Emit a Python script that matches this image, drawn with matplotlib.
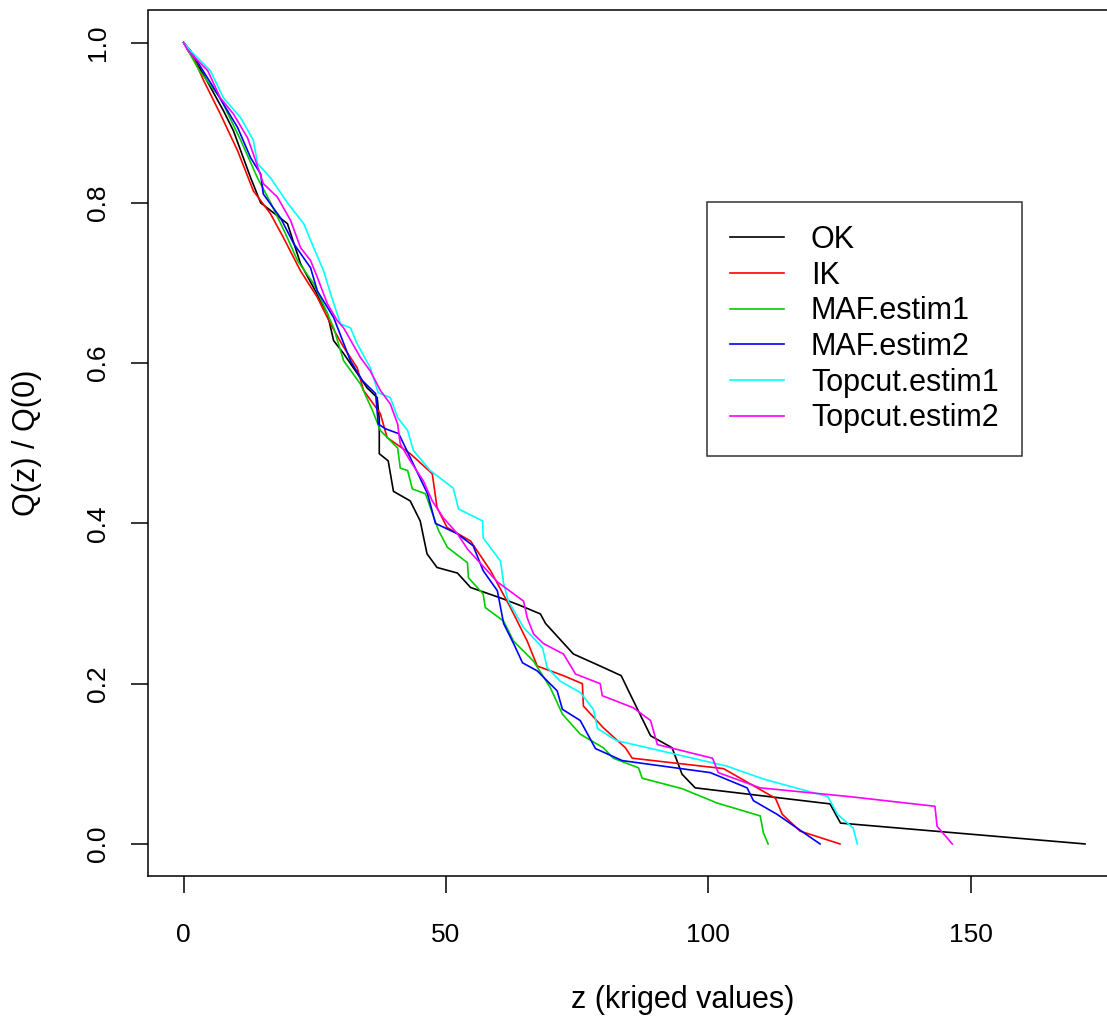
import matplotlib
matplotlib.use("Agg")
from matplotlib import pyplot as plt

plt.rcParams['font.family'] = ['Liberation Sans', 'DejaVu Sans']

# Q(z)/Q(0) curves
ok_z = [0, 3.8, 7.6, 9.5, 12.8, 14.7, 19.8, 22.3, 24.8, 27.4, 28.6, 30.5, 35, 36.9, 37.3, 37.3,
        39, 40, 43.2, 45.1, 46.4, 48.3, 52.2, 54.7, 60.4, 64, 68, 69, 74.3, 79.4, 83.4, 85.1,
        89, 93.1, 95, 97.5, 123.2, 125.2, 171.8]
ok_q = [1.0, 0.96, 0.915, 0.89, 0.831, 0.80, 0.774, 0.724, 0.694, 0.662, 0.628, 0.612, 0.569, 0.557, 0.53, 0.487,
        0.478, 0.44, 0.428, 0.403, 0.362, 0.345, 0.338, 0.32, 0.307, 0.298, 0.287, 0.275, 0.237, 0.222, 0.21, 0.187,
        0.135, 0.12, 0.087, 0.07, 0.05, 0.026, 0.0]

ik_z = [0, 1.3, 3.8, 7, 10.3, 13.3, 16.6, 19, 22.3, 25.5, 28, 30.5, 33.1, 34.3, 37.5, 38.8, 43.2,
        47.4, 48.3, 50.2, 54.7, 58.5, 62.3, 65.5, 67.4, 72.4, 76, 76.2, 80, 84.2, 85.5, 102.9,
        112.8, 114.1, 117.5, 125.1]
ik_q = [1.0, 0.99, 0.953, 0.911, 0.865, 0.815, 0.786, 0.757, 0.715, 0.682, 0.649, 0.62, 0.594, 0.566, 0.537, 0.507, 0.487,
        0.462, 0.42, 0.395, 0.378, 0.341, 0.295, 0.253, 0.222, 0.21, 0.2, 0.172, 0.145, 0.12, 0.107, 0.094,
        0.057, 0.037, 0.016, 0.0]

maf1_z = [0, 3, 7, 10.9, 14.1, 16.6, 19.4, 21.7, 24.8, 27.4, 28.6, 30.5, 33.7, 36, 37.5, 40.8, 41.3,
          42.7, 43.6, 46.1, 48.6, 50.3, 54.1, 54.3, 57.1, 57.5, 61, 62.9, 66.7, 69.9, 72.2, 75.6,
          80, 81.9, 86.7, 87.4, 95, 101.7, 109.9, 110.5, 111.4]
maf1_q = [1.0, 0.965, 0.931, 0.878, 0.831, 0.8, 0.762, 0.728, 0.699, 0.662, 0.644, 0.603, 0.574, 0.541, 0.516, 0.494, 0.469,
          0.466, 0.443, 0.437, 0.391, 0.37, 0.351, 0.332, 0.312, 0.295, 0.278, 0.253, 0.228, 0.195, 0.162, 0.137,
          0.12, 0.107, 0.095, 0.082, 0.069, 0.051, 0.035, 0.014, 0.0]

maf2_z = [0, 1.3, 5.7, 10.3, 12.8, 14.7, 15.2, 18.5, 21, 24.2, 25.5, 28.6, 31.8, 34.1, 36.6, 37.1,
          38.5, 41, 43.8, 46.5, 48, 52.2, 55.2, 57.1, 59.8, 61, 62.9, 64.6, 67.4, 71.2, 72.2, 75.6,
          78.5, 83.6, 100.4, 107.4, 108.6, 113.1, 121.3]
maf2_q = [1.0, 0.99, 0.944, 0.894, 0.856, 0.836, 0.811, 0.781, 0.749, 0.719, 0.69, 0.657, 0.603, 0.578, 0.562, 0.524,
          0.518, 0.512, 0.474, 0.437, 0.40, 0.387, 0.372, 0.341, 0.316, 0.275, 0.25, 0.226, 0.216, 0.191, 0.168, 0.154,
          0.119, 0.104, 0.089, 0.07, 0.054, 0.037, 0.0]

top1_z = [0, 1.3, 5.1, 7.6, 10.9, 13.3, 14.1, 16.6, 19.8, 22.9, 24.8, 26.7, 28, 29.9, 31.8, 33.1,
          35.6, 37.1, 39.4, 40.8, 42.7, 43.8, 47, 51.4, 52.4, 57, 57.1, 60.4, 61, 61.9, 64.8,
          68.4, 69.3, 71.8, 75.6, 78.1, 78.9, 82.5, 103.6, 110.5, 122.8, 124.6, 127.6, 128.4]
top1_q = [1.0, 0.99, 0.965, 0.931, 0.906, 0.878, 0.849, 0.831, 0.8, 0.774, 0.744, 0.715, 0.687, 0.649, 0.644, 0.624,
          0.594, 0.563, 0.557, 0.532, 0.516, 0.491, 0.466, 0.444, 0.418, 0.403, 0.382, 0.353, 0.325, 0.303, 0.27,
          0.245, 0.22, 0.203, 0.189, 0.168, 0.144, 0.129, 0.097, 0.081, 0.059, 0.037, 0.02, 0.0]

top2_z = [0, 0.8, 4.6, 7, 9.5, 12.2, 13.3, 15.2, 17.9, 20.4, 22.3, 24.2, 25.5, 27.4, 29.3, 30.5,
          33.7, 35.6, 37.5, 39.4, 40.8, 41.3, 43.2, 45.7, 47.4, 49.5, 52.2, 54.1, 56.6, 59.8,
          64.8, 65.5, 66.7, 68.6, 72.4, 74.7, 79.4, 79.8, 85.7, 89, 90.3, 100.8, 101.9, 109.9,
          127, 143.2, 143.6, 146.5]
top2_q = [1.0, 0.99, 0.965, 0.931, 0.911, 0.881, 0.861, 0.824, 0.807, 0.778, 0.744, 0.728, 0.707, 0.674, 0.653, 0.644,
          0.607, 0.59, 0.566, 0.549, 0.524, 0.499, 0.478, 0.453, 0.428, 0.407, 0.387, 0.368, 0.35, 0.327,
          0.303, 0.282, 0.262, 0.25, 0.237, 0.212, 0.2, 0.185, 0.17, 0.154, 0.124, 0.107, 0.089, 0.07,
          0.059, 0.047, 0.022, 0.0]

names = ['OK', 'IK', 'MAF.estim1', 'MAF.estim2', 'Topcut.estim1', 'Topcut.estim2']
colors = ['black', '#FF0000', '#00CD00', '#0000FF', '#00FFFF', '#FF00FF']
curves = [(ok_z, ok_q), (ik_z, ik_q), (maf1_z, maf1_q), (maf2_z, maf2_q),
          (top1_z, top1_q), (top2_z, top2_q)]

W, H = 1107, 1021
fig = plt.figure(figsize=(W / 100, H / 100), dpi=100)
# axes box runs past the right edge of the picture, as in the original
ax = fig.add_axes([147.5 / W, (H - 876) / H, 973.6 / W, 865.5 / H])

for (z, q), c, n in zip(curves, colors, names):
    ax.plot(z, q, color=c, lw=1.2, label=n)

ax.set_xlim(-6.87, 178.67)
ax.set_ylim(-0.04, 1.04)
ax.set_xticks([0, 50, 100, 150])
ax.set_yticks([0.0, 0.2, 0.4, 0.6, 0.8, 1.0])
ax.set_yticklabels(['0.0', '0.2', '0.4', '0.6', '0.8', '1.0'], rotation=90, va='center')
ax.tick_params(direction='out', length=12, width=1.1, labelsize=19)
ax.tick_params(axis='y', pad=15)
ax.tick_params(axis='x', pad=22)
for s in ax.spines.values():
    s.set_linewidth(1.1)

fig.text(683 / W, 1 - 1000 / H, 'z (kriged values)', fontsize=22, ha='center', va='center')
fig.text(27 / W, 1 - 443 / H, 'Q(z) / Q(0)', fontsize=22, ha='center', va='center', rotation=90)

leg = ax.legend(loc='upper left', bbox_to_anchor=((707 - 147.5) / 973.6, (876 - 202) / 865.5),
                fontsize=22, frameon=True, fancybox=False, edgecolor='black',
                handlelength=1.77, handletextpad=0.88, labelspacing=0.186,
                borderpad=0.75, borderaxespad=0)
leg.get_frame().set_linewidth(1.1)
for h in leg.get_lines():
    h.set_linewidth(1.2)

plt.savefig('out.png', dpi=100)
